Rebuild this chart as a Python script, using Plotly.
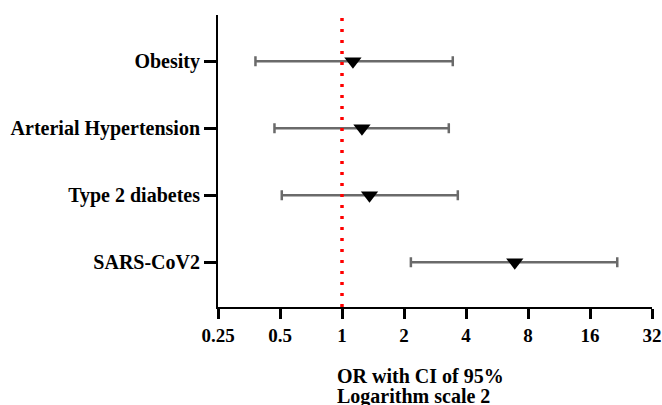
import plotly.graph_objects as go

categories = ["Obesity", "Arterial Hypertension", "Type 2 diabetes", "SARS-CoV2"]
odds_ratio = [1.13, 1.25, 1.36, 6.9]
ci_lower = [0.38, 0.47, 0.51, 2.16]
ci_upper = [3.45, 3.3, 3.65, 21.7]
tick_vals = [0.25, 0.5, 1, 2, 4, 8, 16, 32]
tick_text = ["0.25", "0.5", "1", "2", "4", "8", "16", "32"]
title_lines = ["OR with CI of 95%", "Logarithm scale 2"]
y_pos = [4, 3, 2, 1]

FONT = "Liberation Serif, Times New Roman, serif"

fig = go.Figure()
fig.add_trace(go.Scatter(
    x=odds_ratio, y=y_pos, mode="markers",
    marker=dict(symbol="triangle-down", size=15, color="black"),
    error_x=dict(type="data", symmetric=False,
                 array=[u - o for u, o in zip(ci_upper, odds_ratio)],
                 arrayminus=[o - l for o, l in zip(odds_ratio, ci_lower)],
                 color="#6a6a6a", thickness=2.5, width=5),
    showlegend=False,
))

fig.add_shape(type="line", xref="x", yref="paper", x0=1, x1=1, y0=0, y1=1,
              line=dict(color="red", width=3.5, dash="3px,8px"), layer="above")

fig.update_xaxes(type="log", range=[-0.60206, 1.50515], automargin=False,
                 tickvals=tick_vals, ticktext=tick_text,
                 showline=True, linecolor="black", linewidth=2,
                 ticks="outside", ticklen=10, tickwidth=2.5, tickcolor="black",
                 showgrid=False, zeroline=False,
                 tickfont=dict(family=FONT, size=19, color="black", weight="bold"))
fig.update_yaxes(range=[0.33, 4.69], tickvals=y_pos, ticktext=categories, automargin=False,
                 showline=True, linecolor="black", linewidth=2,
                 ticks="outside", ticklen=12, tickwidth=2.5, tickcolor="black",
                 showgrid=False, zeroline=False,
                 tickfont=dict(family=FONT, size=20, color="black", weight="bold"))

for line, ypos in zip(title_lines, [-0.1918, -0.260]):
    fig.add_annotation(xref="paper", yref="paper", x=0.2696, xanchor="left",
                       y=ypos, yanchor="top", text=line, showarrow=False,
                       font=dict(family=FONT, size=20, color="black", weight="bold"))

fig.update_layout(width=662, height=405, plot_bgcolor="white", paper_bgcolor="white",
                  margin=dict(l=218, r=10, t=15, b=98))
fig.write_html("out.html", config={"displayModeBar": False},
               post_script="document.body.style.margin='0';document.body.style.overflow='hidden';")
